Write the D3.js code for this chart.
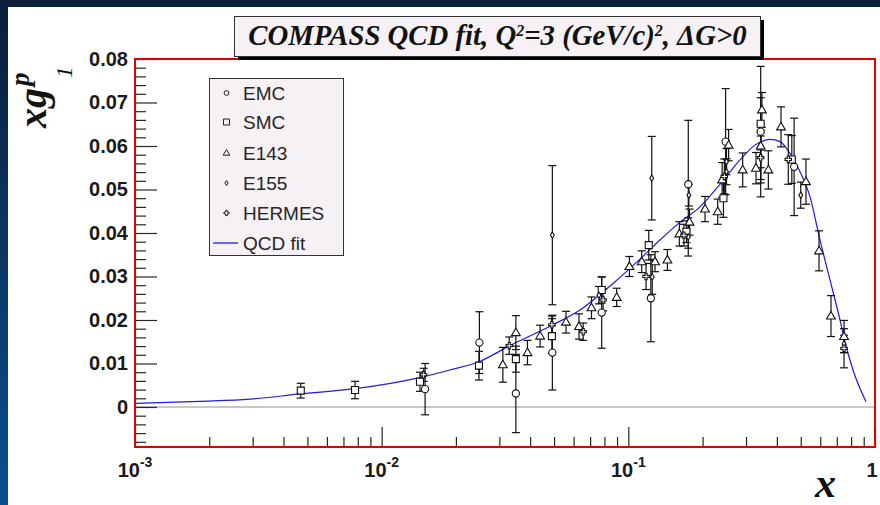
<!DOCTYPE html>
<html><head><meta charset="utf-8">
<script src="https://cdn.jsdelivr.net/npm/d3@7"></script>
<style>body{margin:0;background:#fff;overflow:hidden}svg{display:block}</style>
</head><body><svg id="c" width="880" height="505"></svg>
<script>
// ---------- data ----------
const xDomain = [1e-3, 1];
const yDomain = [-0.0092, 0.08];
const yMajorTicks = [0, 0.01, 0.02, 0.03, 0.04, 0.05, 0.06, 0.07, 0.08];
const yTickLabels = ["0", "0.01", "0.02", "0.03", "0.04", "0.05", "0.06", "0.07", "0.08"];
const xMajorTicks = [1e-3, 1e-2, 1e-1, 1];
const xTickBase = ["10", "10", "10", "1"];
const xTickExp = ["-3", "-2", "-1", ""];
const legendNames = ["EMC", "SMC", "E143", "E155", "HERMES", "QCD fit"];

// [x, xg1, error]
const emc = [
  [0.0150, 0.0041, 0.0059], [0.0249, 0.0148, 0.0071], [0.0350, 0.0031, 0.0090],
  [0.0492, 0.0125, 0.0086], [0.0780, 0.0217, 0.0082], [0.1234, 0.0250, 0.0100],
  [0.1750, 0.0512, 0.0147], [0.2480, 0.0610, 0.0122], [0.3440, 0.0633, 0.0150],
  [0.4700, 0.0552, 0.0112]
];
const smc = [
  [0.0047, 0.00375, 0.0017], [0.0078, 0.0039, 0.0020], [0.0143, 0.0058, 0.0022],
  [0.0248, 0.0095, 0.0033], [0.0350, 0.0110, 0.0030], [0.0490, 0.0163, 0.0040],
  [0.0780, 0.0269, 0.0030], [0.1210, 0.0372, 0.0034], [0.1720, 0.0403, 0.0025],
  [0.2430, 0.0480, 0.0044], [0.3440, 0.0651, 0.0060], [0.4600, 0.0569, 0.0055]
];
const e143 = [
  [0.0310, 0.0097, 0.0040], [0.0350, 0.0171, 0.0039], [0.0390, 0.0125, 0.0028],
  [0.0439, 0.0163, 0.0025], [0.0559, 0.0195, 0.0025], [0.0631, 0.0185, 0.0029],
  [0.0709, 0.0228, 0.0025], [0.0897, 0.0252, 0.0021], [0.1010, 0.0323, 0.0023],
  [0.1133, 0.0334, 0.0025], [0.1283, 0.0334, 0.0023], [0.1440, 0.0338, 0.0024],
  [0.1610, 0.0398, 0.0028], [0.1770, 0.0425, 0.0030], [0.2046, 0.0455, 0.0029],
  [0.2303, 0.0449, 0.0029], [0.2400, 0.0522, 0.0040], [0.2550, 0.0602, 0.0036],
  [0.2908, 0.0545, 0.0039], [0.3293, 0.0549, 0.0036], [0.3440, 0.0600, 0.0050],
  [0.3480, 0.0683, 0.0040], [0.3695, 0.0545, 0.0044], [0.4159, 0.0644, 0.0046],
  [0.5250, 0.0518, 0.0052], [0.5930, 0.0359, 0.0046], [0.6630, 0.0209, 0.0047],
  [0.7490, 0.0162, 0.0037]
];
const e155 = [
  [0.0492, 0.0395, 0.0160], [0.0760, 0.0257, 0.0020], [0.1244, 0.0526, 0.0096],
  [0.1250, 0.0299, 0.0040], [0.1750, 0.0391, 0.0044], [0.1760, 0.0487, 0.0025],
  [0.2500, 0.0564, 0.0030], [0.2500, 0.0541, 0.0030], [0.3440, 0.0575, 0.0060],
  [0.5000, 0.0487, 0.0030], [0.7490, 0.0145, 0.0020]
];
const hermes = [
  [0.0148, 0.0074, 0.0015], [0.0329, 0.0141, 0.0020], [0.0490, 0.0189, 0.0020],
  [0.0656, 0.0173, 0.0020], [0.0790, 0.0246, 0.0025], [0.1180, 0.0300, 0.0030],
  [0.1680, 0.0395, 0.0025], [0.2450, 0.0530, 0.0040], [0.3440, 0.0573, 0.0050],
  [0.4450, 0.0569, 0.0057], [0.7490, 0.0135, 0.0045]
];
const fitX = [0.001, 0.00183, 0.00293, 0.00467, 0.0078, 0.0144, 0.0189, 0.0248, 0.0331,
  0.0495, 0.0637, 0.0867, 0.1115, 0.1344, 0.1621, 0.1952, 0.2353, 0.2836, 0.3262, 0.3753,
  0.4121, 0.4521, 0.4966, 0.5452, 0.5984, 0.657, 0.7213, 0.7556, 0.8143, 0.9194];
const fitY = [0.00085, 0.0013, 0.0018, 0.0030, 0.0042, 0.0068, 0.0085, 0.0104, 0.0141,
  0.0189, 0.0223, 0.0284, 0.0340, 0.0384, 0.0425, 0.0460, 0.0512, 0.0568, 0.0602, 0.0615,
  0.0610, 0.0583, 0.0541, 0.0483, 0.0384, 0.0292, 0.0200, 0.0150, 0.0085, 0.0012];

// ---------- layout ----------
const svg = d3.select("#c");
const M = {l: 135, t: 59, r: 875, b: 447};
const x = d3.scaleLog().domain(xDomain).range([M.l, M.r]);
const y = d3.scaleLinear().domain(yDomain).range([M.b, M.t]);
const sans = "'Liberation Sans', Arial, Helvetica, sans-serif";
const serif = "'Liberation Serif', 'Times New Roman', serif";

// slide background
const defs = svg.append("defs");
const lg = defs.append("linearGradient").attr("id", "side").attr("x1", 0).attr("y1", 0).attr("x2", 0).attr("y2", 1);
lg.append("stop").attr("offset", "0%").attr("stop-color", "#0b1d3a");
lg.append("stop").attr("offset", "100%").attr("stop-color", "#0a4f8e");
svg.append("rect").attr("width", 880).attr("height", 505).attr("fill", "url(#side)");
svg.append("rect").attr("x", 0).attr("y", 0).attr("width", 880).attr("height", 7).attr("fill", "#0b1e3b");
svg.append("rect").attr("x", 8).attr("y", 7).attr("width", 872).attr("height", 498).attr("fill", "#ffffff");

// zero line
svg.append("line").attr("x1", M.l).attr("x2", M.r).attr("y1", y(0)).attr("y2", y(0))
  .attr("stroke", "#b4b4b4").attr("stroke-width", 1.5);

// axes ticks
const yMinor = d3.range(-8, 81, 2).map(d => d / 1000).filter(d => Math.abs(Math.round(d * 100) - d * 100) > 1e-6);
const gyMinor = svg.append("g").attr("transform", `translate(${M.l},0)`)
  .call(d3.axisLeft(y).tickValues(yMinor).tickSize(-11).tickFormat(""));
const gyMajor = svg.append("g").attr("transform", `translate(${M.l},0)`)
  .call(d3.axisLeft(y).tickValues(yMajorTicks).tickSize(-22).tickPadding(7)
    .tickFormat((d, i) => yTickLabels[i]));
const xMinor = [];
[-3, -2, -1].forEach(k => { for (let m = 2; m <= 9; m++) xMinor.push(m * Math.pow(10, k)); });
const gxMinor = svg.append("g").attr("transform", `translate(0,${M.b})`)
  .call(d3.axisBottom(x).tickValues(xMinor).tickSize(-10).tickFormat(""));
const gxMajor = svg.append("g").attr("transform", `translate(0,${M.b})`)
  .call(d3.axisBottom(x).tickValues(xMajorTicks).tickSize(-20).tickFormat(""));
[gyMinor, gyMajor, gxMinor, gxMajor].forEach(g => {
  g.select(".domain").remove();
  g.selectAll(".tick line").attr("stroke", "#262626").attr("stroke-width", 1.2);
});
gyMajor.selectAll(".tick text").attr("font-family", sans).attr("font-weight", "bold")
  .attr("font-size", 20).attr("fill", "#1a1a1a");

// x tick labels with exponents
const xl = svg.append("g").selectAll("text").data(xMajorTicks).join("text")
  .attr("x", (d, i) => x(d) - (xTickExp[i] ? 0 : 3)).attr("y", 477)
  .attr("text-anchor", "middle").attr("font-family", sans).attr("font-weight", "bold")
  .attr("font-size", 20).attr("fill", "#1a1a1a");
xl.append("tspan").text((d, i) => xTickBase[i]);
xl.append("tspan").attr("dy", -10).attr("font-size", 14).text((d, i) => xTickExp[i]);

// fit curve
const fit = fitX.map((d, i) => [d, fitY[i]]);
svg.append("path").datum(fit)
  .attr("d", d3.line().x(d => x(d[0])).y(d => y(d[1])).curve(d3.curveMonotoneX))
  .attr("fill", "none").attr("stroke", "#1c1ce6").attr("stroke-width", 1.2);

// marker shapes
const circ = s => `M${s},0A${s},${s} 0 1,1 ${-s},0A${s},${s} 0 1,1 ${s},0Z`;
const shapes = {
  circle: circ,
  square: s => `M${-s},${-s}H${s}V${s}H${-s}Z`,
  triangle: s => `M0,${-s * 1.15}L${s * 1.1},${s * 0.75}L${-s * 1.1},${s * 0.75}Z`,
  diamond: s => `M0,${-s * 1.3}L${s * 0.8},0L0,${s * 1.3}L${-s * 0.8},0Z`,
  cross: s => { const a = s / 3; return `M${-a},${-s}H${a}V${-a}H${s}V${a}H${a}V${s}H${-a}V${a}H${-s}V${-a}H${-a}Z`; }
};
const series = [
  {data: emc, shape: "circle", size: 3.6},
  {data: smc, shape: "square", size: 3.5},
  {data: e143, shape: "triangle", size: 4},
  {data: e155, shape: "diamond", size: 2.4},
  {data: hermes, shape: "cross", size: 3.2}
];
const pts = svg.append("g");
series.forEach(s => {
  const g = pts.append("g");
  const eb = g.selectAll("g.eb").data(s.data).join("g").attr("class", "eb");
  eb.append("line").attr("x1", d => x(d[0])).attr("x2", d => x(d[0]))
    .attr("y1", d => y(d[1] - d[2])).attr("y2", d => y(d[1] + d[2]));
  eb.append("line").attr("x1", d => x(d[0]) - 4).attr("x2", d => x(d[0]) + 4)
    .attr("y1", d => y(d[1] - d[2])).attr("y2", d => y(d[1] - d[2]));
  eb.append("line").attr("x1", d => x(d[0]) - 4).attr("x2", d => x(d[0]) + 4)
    .attr("y1", d => y(d[1] + d[2])).attr("y2", d => y(d[1] + d[2]));
  eb.selectAll("line").attr("stroke", "#111").attr("stroke-width", 1.2);
});
series.forEach(s => {
  pts.append("g").selectAll("path").data(s.data).join("path")
    .attr("transform", d => `translate(${x(d[0])},${y(d[1])})`)
    .attr("d", shapes[s.shape](s.size))
    .attr("fill", "#fff").attr("stroke", "#111").attr("stroke-width", 1.1);
});

// frame
svg.append("rect").attr("x", M.l).attr("y", M.t).attr("width", M.r - M.l).attr("height", M.b - M.t)
  .attr("fill", "none").attr("stroke", "#e00000").attr("stroke-width", 2);

// legend
const leg = svg.append("g");
leg.append("rect").attr("x", 209.5).attr("y", 78.5).attr("width", 134).attr("height", 177)
  .attr("fill", "#f5f1f5").attr("stroke", "#333").attr("stroke-width", 1);
const legY = [93, 122, 153, 183, 213, 243];
const legShapes = ["circle", "square", "triangle", "diamond", "cross"];
const legSizes = [2.4, 3, 3, 2, 2.6];
legShapes.forEach((sh, i) => {
  leg.append("path").attr("transform", `translate(226.5,${legY[i]})`)
    .attr("d", shapes[sh](legSizes[i]))
    .attr("fill", "none").attr("stroke", "#222").attr("stroke-width", 1);
});
leg.append("line").attr("x1", 213).attr("x2", 238).attr("y1", legY[5]).attr("y2", legY[5])
  .attr("stroke", "#3a3ae8").attr("stroke-width", 1.5);
leg.selectAll("text").data(legendNames).join("text")
  .attr("x", 243).attr("y", (d, i) => legY[i] + 7).attr("font-family", sans).attr("font-size", 19)
  .attr("fill", "#262626").text(d => d);

// title box
svg.append("rect").attr("x", 238).attr("y", 20).attr("width", 526).attr("height", 40).attr("fill", "#000");
svg.append("rect").attr("x", 234.5).attr("y", 16.5).attr("width", 526).attr("height", 40)
  .attr("fill", "#f5f1f5").attr("stroke", "#333").attr("stroke-width", 1);
const title = svg.append("text").attr("x", 497.5).attr("y", 45).attr("text-anchor", "middle")
  .attr("font-family", serif).attr("font-style", "italic").attr("font-weight", "bold")
  .attr("font-size", 25).attr("fill", "#111");
title.append("tspan").text("COMPASS QCD fit, Q");
title.append("tspan").attr("dy", -9).attr("font-size", 16).text("2");
title.append("tspan").attr("dy", 9).text("=3 (GeV/c)");
title.append("tspan").attr("dy", -9).attr("font-size", 16).text("2");
title.append("tspan").attr("dy", 9).text(", \u0394G>0");
const tw = title.node().getComputedTextLength();
title.attr("font-size", 25 * 501 / tw);

// axis titles
svg.append("text").attr("x", 815).attr("y", 497).attr("font-family", serif).attr("font-style", "italic")
  .attr("font-weight", "bold").attr("font-size", 42).attr("fill", "#111").text("x");
const yt = svg.append("g").attr("transform", "translate(46,128) rotate(-90)")
  .attr("font-family", serif).attr("font-style", "italic").attr("font-weight", "bold").attr("fill", "#111");
yt.append("text").attr("x", 0).attr("y", 0).attr("font-size", 40).text("xg");
yt.append("text").attr("x", 42).attr("y", -17).attr("font-size", 27).text("p");
yt.append("text").attr("x", 50).attr("y", 26).attr("font-size", 23).attr("font-weight", "normal").text("1");
</script></body></html>
